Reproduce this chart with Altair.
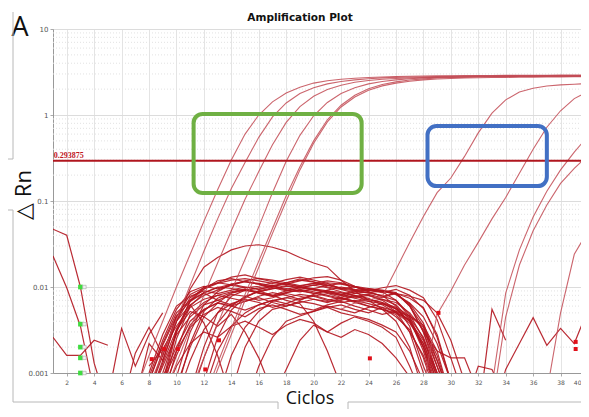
import altair as alt
import pandas as pd

# ---------------- data ----------------
threshold = 0.293875
x_ticks = list(range(2, 41, 2))
y_ticks = [0.001, 0.01, 0.1, 1, 10]
minor_ticks = [2e-3, 3e-3, 4e-3, 5e-3, 6e-3, 7e-3, 8e-3, 9e-3,
               2e-2, 3e-2, 4e-2, 5e-2, 6e-2, 7e-2, 8e-2, 9e-2,
               0.2, 0.3, 0.4, 0.5, 0.6, 0.7, 0.8, 0.9,
               2, 3, 4, 5, 6, 7, 8, 9]

# amplification curves: (first cycle, values per cycle)
g1 = (7, [0.0006, 0.0016, 0.004, 0.010, 0.024, 0.058, 0.135, 0.30, 0.60, 1.00, 1.42, 1.80, 2.10, 2.35, 2.50, 2.60, 2.68, 2.73, 2.77,
          2.80, 2.82, 2.84, 2.85, 2.86, 2.87, 2.88, 2.88, 2.89, 2.89, 2.90, 2.90, 2.91, 2.91, 2.92])
g2 = (8, [0.0007, 0.0017, 0.0042, 0.0105, 0.026, 0.062, 0.14, 0.28, 0.55, 0.95, 1.38, 1.78, 2.08, 2.30, 2.45, 2.56, 2.64, 2.70,
          2.74, 2.77, 2.79, 2.80, 2.81, 2.82, 2.83, 2.83, 2.84, 2.84, 2.85, 2.85, 2.86, 2.86, 2.86])
g3 = (9, [0.0005, 0.0013, 0.0033, 0.008, 0.019, 0.045, 0.105, 0.22, 0.45, 0.82, 1.25, 1.65, 1.98, 2.22, 2.40, 2.52, 2.60, 2.66,
          2.70, 2.73, 2.75, 2.76, 2.77, 2.78, 2.79, 2.79, 2.80, 2.80, 2.81, 2.81, 2.81, 2.82])
g4 = (11, [0.0006, 0.0015, 0.0037, 0.009, 0.021, 0.05, 0.125, 0.29, 0.58, 0.98, 1.40, 1.78, 2.08, 2.30, 2.45, 2.56, 2.64, 2.70,
           2.74, 2.77, 2.79, 2.81, 2.82, 2.83, 2.84, 2.85, 2.85, 2.86, 2.86, 2.87])
g5 = (12, [0.0005, 0.0013, 0.0033, 0.0082, 0.02, 0.048, 0.115, 0.25, 0.50, 0.88, 1.30, 1.70, 2.02, 2.26, 2.43, 2.55, 2.63, 2.69,
           2.73, 2.76, 2.78, 2.80, 2.81, 2.82, 2.83, 2.84, 2.84, 2.85, 2.85])
g6 = (12, [0.0004, 0.0011, 0.0028, 0.007, 0.017, 0.042, 0.10, 0.23, 0.47, 0.83, 1.24, 1.62, 1.94, 2.18, 2.35, 2.47, 2.56, 2.62,
           2.66, 2.69, 2.71, 2.73, 2.74, 2.75, 2.76, 2.77, 2.77, 2.78, 2.78])
b1 = (22, [0.0055, 0.0065, 0.0070, 0.0078, 0.016, 0.033, 0.066, 0.125, 0.185, 0.33, 0.62, 1.05, 1.50, 1.85, 2.05, 2.17, 2.24, 2.28, 2.32])
b2 = (28, [0.0007, 0.0048, 0.009, 0.018, 0.033, 0.062, 0.11, 0.21, 0.40, 0.72, 1.12, 1.55, 1.88])
c1 = (33, [0.0007, 0.0085, 0.027, 0.065, 0.13, 0.23, 0.37, 0.57])
c2 = (33, [0.0004, 0.0045, 0.018, 0.045, 0.09, 0.16, 0.24, 0.34])
d1 = (37, [0.0006, 0.005, 0.024, 0.045])

# baseline / noise curves
d2 = (33, [0.0003, 0.0011, 0.0022, 0.0044, 0.0021, 0.0033, 0.0022, 0.0055])
r2 = (32, [0.0003, 0.0055, 0.0024])
e1 = (1, [0.047, 0.040, 0.010, 0.0013, 0.0004])
e2 = (1, [0.023, 0.0098, 0.0035, 0.0006])
e3 = (1, [0.0026, 0.0016, 0.0016, 0.0024, 0.0021])
f1 = (5, [0.0005, 0.0033, 0.0012, 0.0028, 0.0050])
f2 = (6, [0.0004, 0.0017, 0.0034, 0.0016, 0.0045])
f3 = (7, [0.0005, 0.0022, 0.0014, 0.0040])
n1 = (8, [0.0005, 0.0014, 0.0040, 0.0075, 0.0095, 0.0110, 0.0120, 0.0125, 0.0118, 0.0110, 0.0122, 0.0130, 0.0120, 0.0110, 0.0095, 0.0090, 0.0085, 0.0080, 0.0060, 0.0035, 0.0012, 0.0005, 0.0004])
n2 = (8, [0.0004, 0.0010, 0.0030, 0.0062, 0.0080, 0.0092, 0.0105, 0.0098, 0.0102, 0.0112, 0.0108, 0.0100, 0.0096, 0.0104, 0.0110, 0.0100, 0.0088, 0.0078, 0.0085, 0.0060, 0.0030, 0.0012, 0.0004])
n3 = (8, [0.0008, 0.0022, 0.0050, 0.0070, 0.0085, 0.0100, 0.0096, 0.0090, 0.0098, 0.0105, 0.0092, 0.0088, 0.0095, 0.0090, 0.0082, 0.0075, 0.0080, 0.0070, 0.0055, 0.0040, 0.0022, 0.0008, 0.0004])
n4 = (8, [0.0012, 0.0019, 0.0035, 0.0058, 0.0072, 0.0080, 0.0088, 0.0095, 0.0085, 0.0078, 0.0086, 0.0092, 0.0085, 0.0078, 0.0072, 0.0080, 0.0074, 0.0062, 0.0050, 0.0042, 0.0020, 0.0007, 0.0004])
n5 = (8, [0.0005, 0.0012, 0.0028, 0.0045, 0.0062, 0.0070, 0.0082, 0.0078, 0.0070, 0.0075, 0.0084, 0.0078, 0.0072, 0.0066, 0.0074, 0.0068, 0.0060, 0.0055, 0.0048, 0.0030, 0.0016, 0.0006, 0.0004])
n6 = (8, [0.0004, 0.0009, 0.0020, 0.0040, 0.0055, 0.0065, 0.0060, 0.0068, 0.0075, 0.0066, 0.0060, 0.0068, 0.0064, 0.0058, 0.0062, 0.0055, 0.0050, 0.0058, 0.0045, 0.0032, 0.0015, 0.0005, 0.0004])
n7 = (8, [0.0006, 0.0016, 0.0045, 0.0082, 0.0098, 0.0112, 0.0130, 0.0138, 0.0125, 0.0115, 0.0108, 0.0118, 0.0128, 0.0132, 0.0120, 0.0102, 0.0092, 0.0088, 0.0070, 0.0048, 0.0025, 0.0009, 0.0004])
n8 = (8, [0.0004, 0.0008, 0.0018, 0.0034, 0.0048, 0.0058, 0.0052, 0.0045, 0.0056, 0.0062, 0.0055, 0.0048, 0.0052, 0.0058, 0.0050, 0.0046, 0.0042, 0.0036, 0.0030, 0.0018, 0.0008, 0.0004, 0.0004])
n9 = (8, [0.0005, 0.0013, 0.0032, 0.0052, 0.0045, 0.0035, 0.0048, 0.0030, 0.0015, 0.0006])
n10 = (9, [0.0006, 0.0025, 0.0060, 0.0085, 0.0070, 0.0062, 0.0075, 0.0090, 0.0080, 0.0070, 0.0064, 0.0040, 0.0018, 0.0007])
n11 = (11, [0.0005, 0.0015, 0.0038, 0.0060, 0.0078, 0.0088, 0.0095, 0.0102, 0.0098, 0.0105, 0.0112, 0.0108, 0.0100, 0.0092, 0.0090, 0.0082, 0.0065, 0.0045, 0.0022, 0.0008])
n12 = (12, [0.0006, 0.0018, 0.0035, 0.0050, 0.0062, 0.0070, 0.0075, 0.0082, 0.0078, 0.0070, 0.0076, 0.0085, 0.0080, 0.0072, 0.0066, 0.0050, 0.0032, 0.0014, 0.0005])
n13 = (8, [0.0009, 0.0024, 0.0055, 0.0088, 0.0102, 0.0095, 0.0105, 0.0115, 0.0108, 0.0098, 0.0090, 0.0098, 0.0105, 0.0098, 0.0088, 0.0080, 0.0068, 0.0072, 0.0062, 0.0042, 0.0018, 0.0006])
n14 = (9, [0.0005, 0.0012, 0.0022, 0.0030, 0.0026, 0.0035, 0.0040, 0.0034, 0.0028, 0.0036, 0.0042, 0.0038, 0.0030, 0.0026, 0.0032, 0.0028, 0.0022, 0.0015, 0.0009, 0.0005])
n15 = (10, [0.0007, 0.0020, 0.0045, 0.0065, 0.0085, 0.0092, 0.0086, 0.0080, 0.0090, 0.0098, 0.0094, 0.0088, 0.0082, 0.0090, 0.0096, 0.0092, 0.0086, 0.0060, 0.0035, 0.0012, 0.0005])
n16 = (10, [0.0040, 0.0095, 0.0170, 0.0220, 0.0270, 0.0300, 0.0310, 0.0290, 0.0260, 0.0220, 0.0190, 0.0170, 0.0120, 0.0090, 0.0070, 0.0055, 0.0040, 0.0020, 0.0006])
n17 = (13, [0.0005, 0.0016, 0.0034, 0.0052, 0.0068, 0.0075, 0.0070, 0.0082, 0.0092, 0.0100, 0.0094, 0.0090, 0.0098, 0.0104, 0.0092, 0.0075, 0.0042, 0.0015, 0.0005])
n18 = (14, [0.0006, 0.0020, 0.0040, 0.0055, 0.0060, 0.0066, 0.0072, 0.0068, 0.0070, 0.0078, 0.0082, 0.0075, 0.0085, 0.0062, 0.0030, 0.0010, 0.0005])
n19 = (8, [0.0006, 0.0018, 0.0040, 0.0062, 0.0038, 0.0016, 0.0005])
n20 = (15, [0.0004, 0.0012, 0.0026, 0.0040, 0.0046, 0.0052, 0.0060, 0.0055, 0.0050, 0.0058, 0.0064, 0.0056, 0.0040, 0.0020, 0.0008, 0.0004])
n21 = (9, [0.0008, 0.0032, 0.0068, 0.0095, 0.0118, 0.0125, 0.0115, 0.0108, 0.0100, 0.0112, 0.0124, 0.0115, 0.0100, 0.0094, 0.0085, 0.0088, 0.0078, 0.0070, 0.0045, 0.0020, 0.0006])
n22 = (17, [0.0005, 0.0011, 0.0024, 0.0036, 0.0030, 0.0038, 0.0045, 0.0040, 0.0034, 0.0026, 0.0012, 0.0005])
n23 = (10, [0.0005, 0.0014, 0.0032, 0.0050, 0.0064, 0.0072, 0.0066, 0.0058, 0.0064, 0.0074, 0.0080, 0.0072, 0.0066, 0.0070, 0.0064, 0.0058, 0.0052, 0.0046, 0.0034, 0.0016, 0.0005])
n24 = (11, [0.0006, 0.0020, 0.0050, 0.0078, 0.0092, 0.0085, 0.0078, 0.0086, 0.0094, 0.0088, 0.0080, 0.0074, 0.0066, 0.0060, 0.0055, 0.0050, 0.0038, 0.0022, 0.0009, 0.0005])
n25 = (28, [0.0030, 0.0018, 0.0015, 0.0015, 0.0006])
n26 = (31, [0.0004, 0.0012, 0.0011, 0.0005])
n27 = (9, [0.0007, 0.0030, 0.0070, 0.0100, 0.0112, 0.0106, 0.0118, 0.0126, 0.0120, 0.0112, 0.0104, 0.0110, 0.0118, 0.0112, 0.0102, 0.0096, 0.0090, 0.0082, 0.0064, 0.0038, 0.0014, 0.0005])
n28 = (8, [0.0010, 0.0028, 0.0060, 0.0078, 0.0090, 0.0084, 0.0092, 0.0100, 0.0094, 0.0102, 0.0096, 0.0090, 0.0084, 0.0090, 0.0086, 0.0078, 0.0072, 0.0066, 0.0052, 0.0030, 0.0010, 0.0004])
n29 = (10, [0.0009, 0.0030, 0.0062, 0.0088, 0.0108, 0.0116, 0.0110, 0.0104, 0.0112, 0.0120, 0.0114, 0.0106, 0.0098, 0.0092, 0.0086, 0.0090, 0.0084, 0.0074, 0.0058, 0.0026, 0.0008])
n30 = (9, [0.0005, 0.0018, 0.0048, 0.0066, 0.0080, 0.0074, 0.0068, 0.0078, 0.0086, 0.0080, 0.0072, 0.0078, 0.0084, 0.0076, 0.0068, 0.0072, 0.0066, 0.0058, 0.0046, 0.0036, 0.0018, 0.0005])
n31 = (12, [0.0008, 0.0026, 0.0054, 0.0076, 0.0090, 0.0098, 0.0094, 0.0102, 0.0110, 0.0104, 0.0096, 0.0100, 0.0092, 0.0086, 0.0094, 0.0080, 0.0056, 0.0028, 0.0008])
n32 = (8, [0.0008, 0.0021, 0.0046, 0.0068, 0.0086, 0.0098, 0.0108, 0.0100, 0.0094, 0.0102, 0.0108, 0.0102, 0.0094, 0.0086, 0.0080, 0.0074, 0.0068, 0.0064, 0.0056, 0.0044, 0.0026, 0.0010, 0.0004])
n33 = (10, [0.0006, 0.0022, 0.0052, 0.0074, 0.0086, 0.0094, 0.0088, 0.0096, 0.0104, 0.0098, 0.0092, 0.0086, 0.0080, 0.0088, 0.0094, 0.0090, 0.0084, 0.0078, 0.0070, 0.0050, 0.0024, 0.0008])
n34 = (9, [0.0006, 0.0016, 0.0036, 0.0054, 0.0066, 0.0060, 0.0054, 0.0062, 0.0070, 0.0064, 0.0058, 0.0054, 0.0062, 0.0068, 0.0060, 0.0054, 0.0048, 0.0052, 0.0040, 0.0024, 0.0010, 0.0004])

amp_series = {"g1": g1, "g2": g2, "g3": g3, "g4": g4, "g5": g5, "g6": g6,
              "b1": b1, "b2": b2, "c1": c1, "c2": c2, "d1": d1}
noise_series = {"d2": d2, "r2": r2, "e1": e1, "e2": e2, "e3": e3, "f1": f1, "f2": f2, "f3": f3,
                "n1": n1, "n2": n2, "n3": n3, "n4": n4, "n5": n5, "n6": n6, "n7": n7, "n8": n8,
                "n9": n9, "n10": n10, "n11": n11, "n12": n12, "n13": n13, "n14": n14, "n15": n15,
                "n16": n16, "n17": n17, "n18": n18, "n19": n19, "n20": n20, "n21": n21, "n22": n22,
                "n23": n23, "n24": n24, "n25": n25, "n26": n26, "n27": n27, "n28": n28, "n29": n29,
                "n30": n30, "n31": n31, "n32": n32, "n33": n33, "n34": n34}

green_x = [3, 3, 3, 3, 3]
green_y = [0.01, 0.0037, 0.002, 0.0015, 0.001]
red_x = [8.2, 9.1, 10.1, 12.1, 13.1, 24.1, 29.1, 39.1, 39.1]
red_y = [0.00145, 0.0019, 0.0019, 0.0011, 0.0024, 0.00148, 0.005, 0.0023, 0.0019]

box_names = ["green", "blue"]
box_x1 = [11.25, 28.3]
box_x2 = [23.5, 37.0]
box_y1 = [0.124, 0.149]
box_y2 = [1.03, 0.745]


def to_frame(series):
    rows = []
    for name, (start, vals) in series.items():
        for i, v in enumerate(vals):
            rows.append({"series": name, "cycle": start + i, "value": v})
    return pd.DataFrame(rows)


amp_df = to_frame(amp_series)
noise_df = to_frame(noise_series)

X = alt.Scale(domain=[1, 40], nice=False, zero=False)
Y = alt.Scale(type="log", domain=[0.001, 10], nice=False)

x_axis = alt.Axis(values=x_ticks, title=None, labelFontSize=6, labelColor="#555", labelFont="DejaVu Sans",
                  tickSize=3, tickColor="#aaa", domainColor="#999", gridColor="#e4e4e4", labelPadding=3,
                  labelFlush=True, labelFlushOffset=-7, labelOverlap=False)
y_axis = alt.Axis(values=y_ticks, format="~g", title=None, labelFontSize=7, labelColor="#555",
                  labelFont="DejaVu Sans", tickSize=3, tickColor="#aaa", domainColor="#999",
                  gridColor="#dcdcdc", labelPadding=2)

one = pd.DataFrame({"k": [0]})

minor = alt.Chart(pd.DataFrame({"v": minor_ticks})).mark_rule(
    color="#e2e2e2", strokeDash=[1, 2], strokeWidth=1
).encode(y=alt.Y("v:Q", scale=Y, axis=y_axis))

base_axes = alt.Chart(noise_df).mark_line(clip=True, color="#b3141e", strokeWidth=1.2, opacity=0.9).encode(
    x=alt.X("cycle:Q", scale=X, axis=x_axis),
    y=alt.Y("value:Q", scale=Y, axis=y_axis),
    detail="series:N",
)

amp = alt.Chart(amp_df).mark_line(clip=True, color="#c24a54", strokeWidth=1.1, opacity=0.85).encode(
    x=alt.X("cycle:Q", scale=X, axis=x_axis),
    y=alt.Y("value:Q", scale=Y, axis=y_axis),
    detail="series:N",
)

thr = alt.Chart(pd.DataFrame({"t": [threshold]})).mark_rule(color="#b0161e", strokeWidth=2).encode(
    y=alt.Y("t:Q", scale=Y, axis=y_axis)
)
thr_label = alt.Chart(pd.DataFrame({"t": [threshold], "x": [1.05], "lab": ["0.293875"]})).mark_text(
    align="left", baseline="bottom", dy=-1, font="Liberation Serif", fontWeight="bold", fontSize=8,
    color="#c0161e"
).encode(x=alt.X("x:Q", scale=X, axis=x_axis), y=alt.Y("t:Q", scale=Y, axis=y_axis), text="lab:N")

green_pts = alt.Chart(pd.DataFrame({"x": green_x, "y": green_y})).mark_square(
    size=22, color="#3fdc3f", opacity=1, clip=False
).encode(x=alt.X("x:Q", scale=X, axis=x_axis), y=alt.Y("y:Q", scale=Y, axis=y_axis))
green_side = alt.Chart(pd.DataFrame({"x": green_x, "y": green_y})).mark_square(
    size=12, fill="#f2f2f2", stroke="#aaaaaa", strokeWidth=0.6, opacity=1, xOffset=4, clip=False
).encode(x=alt.X("x:Q", scale=X, axis=x_axis), y=alt.Y("y:Q", scale=Y, axis=y_axis))
red_pts = alt.Chart(pd.DataFrame({"x": red_x, "y": red_y})).mark_square(
    size=16, color="#e0101a", opacity=1
).encode(x=alt.X("x:Q", scale=X, axis=x_axis), y=alt.Y("y:Q", scale=Y, axis=y_axis))

boxes = alt.Chart(pd.DataFrame({"n": box_names, "x1": box_x1, "x2": box_x2, "y1": box_y1, "y2": box_y2})).mark_rect(
    fill=None, filled=False, strokeWidth=4, cornerRadius=9
).encode(
    x=alt.X("x1:Q", scale=X, axis=x_axis), x2="x2:Q",
    y=alt.Y("y1:Q", scale=Y, axis=y_axis), y2="y2:Q",
    stroke=alt.Stroke("n:N", scale=alt.Scale(domain=box_names, range=["#6fb043", "#4270c4"]), legend=None),
)

title = alt.Chart(one).mark_text(text="Amplification Plot", font="DejaVu Sans", fontWeight="bold",
                                 fontSize=10.5, color="#111").encode(x=alt.value(247), y=alt.value(-11))
letter = alt.Chart(one).mark_text(text="A", font="Open Sans", fontSize=27, baseline="alphabetic",
                                  color="#111").encode(x=alt.value(-33), y=alt.value(7))
ylab = alt.Chart(one).mark_text(text="△ Rn", font="Open Sans", fontSize=22, angle=270, color="#111").encode(
    x=alt.value(-29), y=alt.value(166))
xlab = alt.Chart(one).mark_text(text="Ciclos", font="Open Sans", fontSize=18, baseline="bottom",
                                color="#111").encode(x=alt.value(257), y=alt.value(379))

frame_col = "#b8b8b8"
fr = [
    alt.Chart(one).mark_rule(color=frame_col, strokeWidth=1).encode(x=alt.value(-40), y=alt.value(-17), y2=alt.value(130)),
    alt.Chart(one).mark_rule(color=frame_col, strokeWidth=1).encode(x=alt.value(-46), x2=alt.value(-40), y=alt.value(130)),
    alt.Chart(one).mark_rule(color=frame_col, strokeWidth=1).encode(x=alt.value(-40), y=alt.value(181), y2=alt.value(373)),
    alt.Chart(one).mark_rule(color=frame_col, strokeWidth=1).encode(x=alt.value(-46), x2=alt.value(-40), y=alt.value(181)),
    alt.Chart(one).mark_rule(color=frame_col, strokeWidth=1).encode(x=alt.value(-40), x2=alt.value(225), y=alt.value(373)),
    alt.Chart(one).mark_rule(color=frame_col, strokeWidth=1).encode(x=alt.value(225), y=alt.value(373), y2=alt.value(390)),
    alt.Chart(one).mark_rule(color=frame_col, strokeWidth=1).encode(x=alt.value(295), x2=alt.value(540), y=alt.value(373)),
    alt.Chart(one).mark_rule(color=frame_col, strokeWidth=1).encode(x=alt.value(295), y=alt.value(373), y2=alt.value(390)),
]

chart = alt.layer(
    minor, base_axes, amp, thr, thr_label, green_pts, green_side, red_pts, boxes, title, letter, ylab, xlab, *fr
).properties(
    width=535, height=344,
    autosize=alt.AutoSizeParams(type="none"),
    padding={"left": 45, "top": 21, "right": -7, "bottom": 36},
).configure_view(stroke=None).configure_axisX(labelOverlap=False).configure(background="white")

chart.save("out.html", embed_options={"renderer": "svg", "actions": False})
